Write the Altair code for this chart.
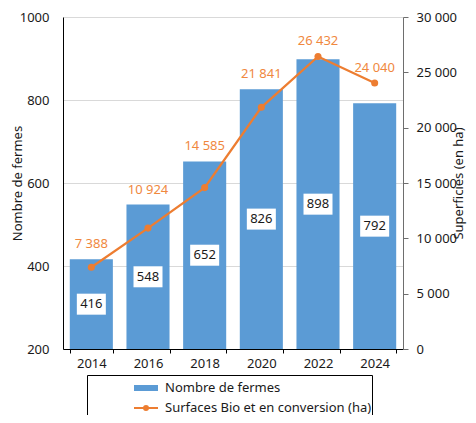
import altair as alt
import pandas as pd

# ---- data ----
years = ["2014", "2016", "2018", "2020", "2022", "2024"]
fermes = [416, 548, 652, 826, 898, 792]
surfaces = [7388, 10924, 14585, 21841, 26432, 24040]
series = ["Nombre de fermes", "Surfaces Bio et en conversion (ha)"]
left_ticks = [200, 400, 600, 800, 1000]
right_ticks = [0, 5000, 10000, 15000, 20000, 25000, 30000]

BLUE = "#5b9bd5"
ORANGE = "#ed7d31"
LABEL_ORANGE = "#f0883e"
FONT = "Noto Sans"
TXT = "#1a1a1a"

PLOT_H = 332

df = pd.DataFrame({"annee": years, "fermes": fermes, "surface": surfaces})
df["surface_label"] = [f"{v:,}".replace(",", " ") for v in surfaces]
leg = pd.DataFrame({"serie": series})

x = alt.X(
    "annee:O", sort=years, title=None,
    scale=alt.Scale(paddingInner=0.24, paddingOuter=0.12),
    axis=alt.Axis(labelAngle=0, tickBand="extent", domainColor="black",
                  tickColor="black", tickSize=4, labelPadding=4,
                  labelFontSize=13, labelColor=TXT),
)

yL_scale = alt.Scale(domain=[200, 1000], zero=False, nice=False)
yL_axis = alt.Axis(title="Nombre de fermes", values=left_ticks, format="d", grid=True,
                   gridColor="#d9d9d9", domainColor="black", ticks=False,
                   labelPadding=14, titleX=-39, titleY=PLOT_H / 2)
yR_scale = alt.Scale(domain=[0, 30000], nice=False)
yR_axis = alt.Axis(title="Superficies (en ha)", orient="right", values=right_ticks,
                   grid=False, domainColor="#6e6e6e", tickColor="#6e6e6e",
                   tickSize=5, labelPadding=8, titleAngle=270, titlePadding=9,
                   labelExpr="replace(format(datum.value, ','), ',', ' ')")

base = alt.Chart(df)

bars = base.mark_bar(color=BLUE).encode(
    x=x,
    y=alt.Y("fermes:Q", scale=yL_scale, axis=yL_axis),
    y2=alt.datum(200),
)

BOX = "M-1,-0.724H1V0.724H-1Z"
boxes = base.transform_calculate(mid="(datum.fermes + 200) / 2").mark_point(
    shape=BOX, size=841, filled=True, fill="white", opacity=1, strokeWidth=0
).encode(x=x, y=alt.Y("mid:Q", scale=yL_scale, axis=yL_axis))

bar_text = base.transform_calculate(mid="(datum.fermes + 200) / 2").mark_text(
    fontSize=13, color=TXT, font=FONT, baseline="middle"
).encode(x=x, y=alt.Y("mid:Q", scale=yL_scale, axis=yL_axis), text="fermes:Q")

left = alt.layer(bars, boxes, bar_text)

line = base.mark_line(
    color=ORANGE, strokeWidth=2.25,
    point=alt.OverlayMarkDef(filled=True, color=ORANGE, size=50, opacity=1),
).encode(x=x, y=alt.Y("surface:Q", scale=yR_scale, axis=yR_axis))

line_text = base.transform_calculate(
    bar_eq="(datum.fermes - 200) / 800 * 30000",
    ly="max(datum.surface, datum.bar_eq)",
).mark_text(fontSize=13, color=LABEL_ORANGE, font=FONT, dy=-15, baseline="middle").encode(
    x=x, y=alt.Y("ly:Q", scale=yR_scale, axis=yR_axis), text="surface_label:N"
)

right = alt.layer(line, line_text)

RECT = "M-0.9167,-0.1667H0.9167V0.1667H-0.9167Z"
LINEDOT = ("M-1,0H1M-0.1667,0A0.1667,0.1667,0,1,1,0.1667,0"
           "A0.1667,0.1667,0,1,1,-0.1667,0Z")
NB = "\u00a0" * 12
legend = alt.Legend(
    title=None, orient="none", legendX=24, legendY=358, padding=0,
    strokeColor="black", symbolSize=576, symbolStrokeWidth=2, symbolOffset=46,
    labelOffset=6, labelFontSize=13, labelFont=FONT, labelColor=TXT,
    rowPadding=0, symbolOpacity=1, labelLimit=400,
    labelExpr=f"datum.label + '{NB}'",
)
legend_layer = alt.Chart(leg).mark_point(opacity=0, strokeWidth=2).encode(
    shape=alt.Shape("serie:N", scale=alt.Scale(domain=series, range=[RECT, LINEDOT]), legend=legend),
    fill=alt.Fill("serie:N", scale=alt.Scale(domain=series, range=[BLUE, ORANGE]), legend=legend),
    stroke=alt.Stroke("serie:N", scale=alt.Scale(domain=series, range=[BLUE, ORANGE]), legend=legend),
)

chart = alt.layer(left, right, legend_layer).resolve_scale(y="independent").properties(
    width=340, height=PLOT_H,
    autosize=alt.AutoSizeParams(type="none"),
    padding={"left": 55, "top": 9, "right": 65, "bottom": 66},
).configure_view(stroke=None).configure_axis(
    labelFont=FONT, titleFont=FONT, labelFontSize=13, titleFontSize=13,
    titleFontWeight="normal", labelColor=TXT, titleColor=TXT,
).configure_text(font=FONT)

chart.save("out.html", embed_options={"renderer": "svg", "actions": False})
